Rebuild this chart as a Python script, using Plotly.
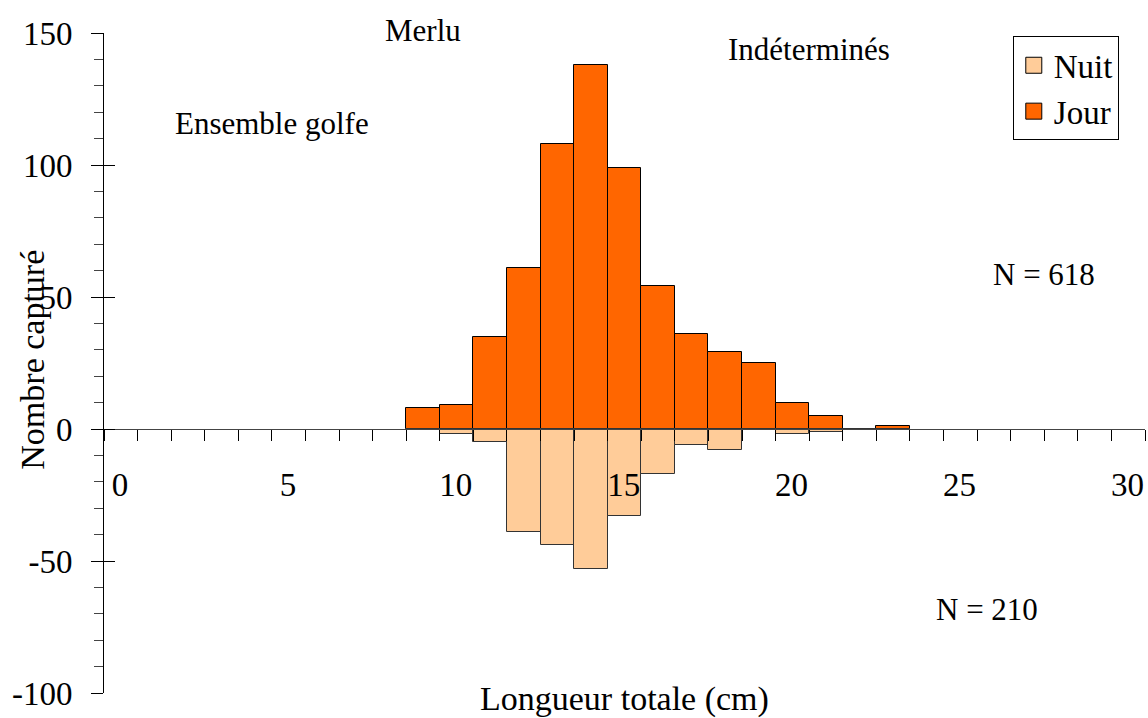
import plotly.graph_objects as go

# bin centres (cm), each bin 1 cm wide
lengths = [9.5, 10.5, 11.5, 12.5, 13.5, 14.5, 15.5, 16.5, 17.5, 18.5, 19.5, 20.5, 21.5, 22.5, 23.5]
jour = [8, 9, 35, 61, 108, 138, 99, 54, 36, 29, 25, 10, 5, 0, 1]
nuit = [0, -2, -5, -39, -44, -53, -33, -17, -6, -8, 0, -2, -1, 0, 0]

x_ticks = [0, 5, 10, 15, 20, 25, 30]
y_ticks = [-100, -50, 0, 50, 100, 150]
y_tick_text = ["-100", "-50", "0", "50", "100", "150"]

JOUR_COLOR = "#FF6600"
NUIT_COLOR = "#FFCC99"
FONT = "Liberation Serif"

fig = go.Figure()
fig.add_trace(go.Bar(x=lengths, y=jour, width=1, name="Jour", showlegend=False,
                     marker=dict(color=JOUR_COLOR, line=dict(color="black", width=1))))
fig.add_trace(go.Bar(x=lengths, y=nuit, width=1, name="Nuit", showlegend=False,
                     marker=dict(color=NUIT_COLOR, line=dict(color="#333333", width=1))))
# legend proxies
fig.add_trace(go.Scatter(x=[None], y=[None], mode="markers", name="Nuit", yaxis="y2",
                         marker=dict(symbol="square", size=16, color=NUIT_COLOR,
                                     line=dict(color="black", width=1))))
fig.add_trace(go.Scatter(x=[None], y=[None], mode="markers", name="Jour", yaxis="y2",
                         marker=dict(symbol="square", size=16, color=JOUR_COLOR,
                                     line=dict(color="black", width=1))))

fig.update_layout(
    width=1148, height=718,
    margin=dict(l=104, r=3, t=33, b=25),
    paper_bgcolor="white", plot_bgcolor="white",
    barmode="overlay", bargap=0,
    font=dict(family=FONT, color="black", size=31),
    xaxis=dict(range=[0, 31], anchor="free", position=0.4,
               tickvals=x_ticks, ticktext=[str(v) for v in x_ticks],
               ticks="outside", ticklen=11, tickwidth=1, tickcolor="black",
               minor=dict(dtick=1, tick0=0, ticks="outside", ticklen=11, tickcolor="black", showgrid=False),
               showline=True, linecolor="#444444", linewidth=1,
               showgrid=False, zeroline=False,
               tickfont=dict(family=FONT, size=33),
               ticklabelshift=16, ticklabelstandoff=15),
    yaxis=dict(range=[-100, 150], tickvals=y_ticks, ticktext=y_tick_text,
               ticks="outside", ticklen=12, tickwidth=1, tickcolor="black",
               minor=dict(dtick=10, tick0=0, ticks="outside", ticklen=9, tickcolor="#444444", showgrid=False),
               showline=True, linecolor="black", linewidth=1,
               showgrid=False, zeroline=False,
               tickfont=dict(family=FONT, size=33), ticklabelstandoff=12),
    yaxis2=dict(range=[-100, 150], overlaying="y", anchor="x", side="left",
                tickvals=y_ticks, ticks="inside", ticklen=11, tickcolor="black",
                showticklabels=False, showline=False, showgrid=False, zeroline=False),
    legend=dict(x=0.873, y=0.995, xanchor="left", yanchor="top",
                bordercolor="black", borderwidth=1, bgcolor="white",
                font=dict(family=FONT, size=33), traceorder="normal"),
    annotations=[
        dict(text="Merlu", x=0.3067, y=1.0045, xref="paper", yref="paper", showarrow=False,
             xanchor="center", yanchor="middle"),
        dict(text="Indéterminés", x=21.0, y=143.9, xref="x", yref="y", showarrow=False,
             xanchor="center", yanchor="middle"),
        dict(text="Ensemble golfe", x=5.0, y=115.6, xref="x", yref="y", showarrow=False,
             xanchor="center", yanchor="middle"),
        dict(text="N = 618", x=27.98, y=58.7, xref="x", yref="y", showarrow=False,
             xanchor="center", yanchor="middle"),
        dict(text="N = 210", x=26.3, y=-68.2, xref="x", yref="y", showarrow=False,
             xanchor="center", yanchor="middle"),
        dict(text="Longueur totale (cm)", x=0.5, y=-0.009, xref="paper", yref="paper",
             showarrow=False, xanchor="center", yanchor="middle", font=dict(size=34)),
        dict(text="Nombre capturé", x=-0.0695, y=0.5045, xref="paper", yref="paper",
             showarrow=False, xanchor="center", yanchor="middle", textangle=-90,
             font=dict(size=34)),
    ],
)

fig.write_html("out.html")
